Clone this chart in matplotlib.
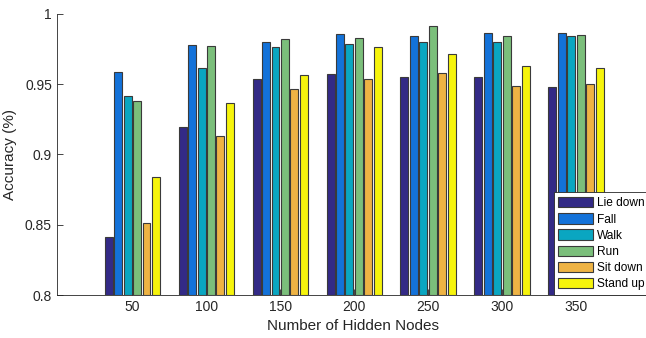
import numpy as np
import matplotlib.pyplot as plt

plt.rcParams['font.family'] = ['Liberation Sans', 'DejaVu Sans']

nodes = [50, 100, 150, 200, 250, 300, 350]
activities = ['Lie down', 'Fall', 'Walk', 'Run', 'Sit down', 'Stand up']
lie_down = [0.841, 0.9196, 0.9535, 0.9573, 0.9552, 0.9552, 0.9483]
fall = [0.959, 0.9777, 0.9803, 0.9855, 0.9841, 0.9865, 0.9865]
walk = [0.9419, 0.9613, 0.9765, 0.9784, 0.9801, 0.9801, 0.9841]
run = [0.9378, 0.9772, 0.982, 0.9829, 0.9912, 0.9839, 0.9848]
sit_down = [0.8512, 0.9134, 0.9466, 0.9535, 0.9577, 0.949, 0.950]
stand_up = [0.8842, 0.9369, 0.9566, 0.9765, 0.9718, 0.963, 0.9618]
series = [lie_down, fall, walk, run, sit_down, stand_up]
colors = ['#332a86', '#1372d9', '#0aa6c1', '#7bbf7b', '#eeb344', '#f6f40c']

fig = plt.figure(figsize=(6.46, 3.38), dpi=100)
ax = fig.add_axes([0.088, 0.127, 0.916, 0.832])

x = np.array(nodes, dtype=float)
pitch = 6.4
width = 5.4
for i, (vals, c, lab) in enumerate(zip(series, colors, activities)):
    off = (i - 2.5) * pitch
    ax.bar(x + off, np.array(vals) - 0.8, width, bottom=0.8, color=c,
           edgecolor='#3a3a3a', linewidth=0.8, label=lab, zorder=2)

ax.set_xlim(-1, 399)
ax.set_ylim(0.8, 1.0)
ax.set_xticks(nodes)
ax.set_yticks([0.8, 0.85, 0.9, 0.95, 1.0])
ax.set_yticklabels(['0.8', '0.85', '0.9', '0.95', '1'])
ax.tick_params(direction='in', labelsize=10, length=4, width=0.6, colors='#262626')
ax.spines['top'].set_visible(False)
ax.spines['right'].set_visible(False)
for s in ['left', 'bottom']:
    ax.spines[s].set_linewidth(0.6)
    ax.spines[s].set_color('#262626')
ax.set_xlabel('Number of Hidden Nodes', fontsize=11, color='#262626', labelpad=4)
ax.set_ylabel('Accuracy (%)', fontsize=11, color='#262626', labelpad=6)

leg = ax.legend(loc='lower left', bbox_to_anchor=(0.8395, 0.0), fontsize=8.6,
                fancybox=False, framealpha=1, edgecolor='#262626',
                handlelength=2.9, handleheight=0.95, labelspacing=0.33,
                handletextpad=0.35, borderpad=0.4, borderaxespad=0)
leg.get_frame().set_linewidth(0.6)

fig.savefig('out.png', dpi=100)
